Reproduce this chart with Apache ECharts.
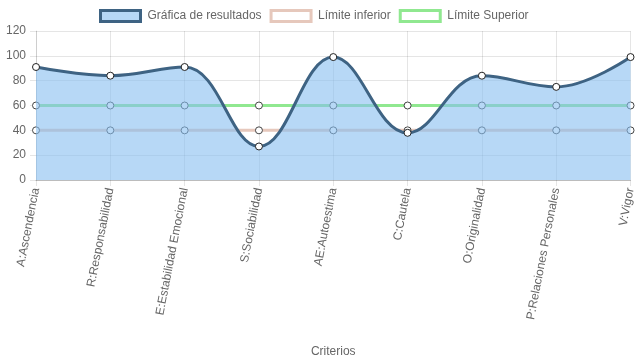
<!DOCTYPE html>
<html><head><meta charset="utf-8">
<script src="https://cdn.jsdelivr.net/npm/echarts@6/dist/echarts.min.js"></script>
<style>html,body{margin:0;padding:0;background:#fff}#c{width:637px;height:359px}</style>
</head><body><div id="c"></div>
<script>
const categories = ["A:Ascendencia","R:Responsabilidad","E:Estabilidad Emocional","S:Sociabilidad","AE:Autoestima","C:Cautela","O:Originalidad","P:Relaciones Personales","V:Vigor"];
const resultados = [91,84,91,27,99,38,84,75,99];
const limiteInferior = [40,40,40,40,40,40,40,40,40];
const limiteSuperior = [60,60,60,60,60,60,60,60,60];
const yTicks = {min:0,max:120,interval:20};

const FONT = "'Liberation Sans', Arial, Helvetica, sans-serif";
const chart = echarts.init(document.getElementById('c'), null, {renderer:'canvas'});
const marker = {symbol:'circle', symbolSize:7, showAllSymbol:true};
chart.setOption({
  animation:false,
  textStyle:{fontFamily:FONT},
  legend:{
    top:4, left:94, itemWidth:40, itemHeight:11, itemGap:8,
    textStyle:{color:'#666', fontSize:12, fontFamily:FONT, padding:[0,0,0,2]},
    data:[
      {name:'Gráfica de resultados', icon:'rect', itemStyle:{color:'#b7d8f6', borderColor:'#3e6383', borderWidth:3}},
      {name:'Límite inferior', icon:'rect', itemStyle:{color:'#ffffff', borderColor:'#e6c8bc', borderWidth:3}},
      {name:'Límite Superior', icon:'rect', itemStyle:{color:'#ffffff', borderColor:'#90e890', borderWidth:3}}
    ]
  },
  grid:{left:36, right:5, top:31, bottom:179, containLabel:false},
  xAxis:{
    type:'category', data:categories, boundaryGap:false,
    name:'Criterios', nameLocation:'middle', nameGap:166,
    nameTextStyle:{color:'#666', fontSize:12, fontFamily:FONT},
    axisLine:{lineStyle:{color:'rgba(0,0,0,0.18)', width:1}},
    axisTick:{show:true, length:6, lineStyle:{color:'rgba(0,0,0,0.1)'}},
    axisLabel:{rotate:79, color:'#666', fontSize:12, fontFamily:FONT, margin:8, interval:0},
    splitLine:{show:true, lineStyle:{color:'rgba(0,0,0,0.1)'}}
  },
  yAxis:{
    type:'value', min:yTicks.min, max:yTicks.max, interval:yTicks.interval,
    axisLine:{show:true, lineStyle:{color:'rgba(0,0,0,0.1)'}},
    axisTick:{show:true, length:6, lineStyle:{color:'rgba(0,0,0,0.1)'}},
    axisLabel:{color:'#666', fontSize:12, fontFamily:FONT, margin:10},
    splitLine:{show:true, lineStyle:{color:'rgba(0,0,0,0.1)'}}
  },
  series:[
    Object.assign({name:'Límite inferior', type:'line', data:limiteInferior, z:2,
      lineStyle:{color:'#e6c8bc', width:3},
      itemStyle:{color:'#ffffff', borderColor:'#444', borderWidth:1}}, marker),
    Object.assign({name:'Límite Superior', type:'line', data:limiteSuperior, z:2,
      lineStyle:{color:'#90e890', width:3},
      itemStyle:{color:'#ffffff', borderColor:'#444', borderWidth:1}}, marker),
    Object.assign({name:'Gráfica de resultados', type:'line', data:resultados, z:3, smooth:0.4,
      lineStyle:{color:'#3e6383', width:3},
      areaStyle:{color:'rgba(135,190,240,0.6)', opacity:1, origin:'start'},
      itemStyle:{color:'#ffffff', borderColor:'#222', borderWidth:1}}, marker)
  ]
});
</script>
</body></html>
